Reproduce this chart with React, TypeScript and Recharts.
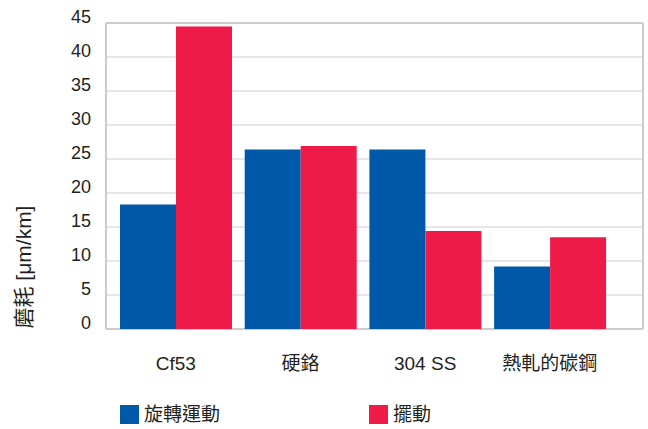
import { Bar, BarChart, CartesianGrid, XAxis, YAxis } from "recharts";

const categories = ["Cf53", "硬鉻", "304 SS", "熱軋的碳鋼"];
const rotation = [18.3, 26.4, 26.4, 9.2];
const oscillation = [44.5, 26.9, 14.4, 13.5];
const yTicks = [0, 5, 10, 15, 20, 25, 30, 35, 40, 45];

const BLUE = "#0058a8";
const RED = "#ee1a48";
const TEXT = "#231f20";
const FONT = '"Liberation Sans", Arial, "Noto Sans CJK TC", sans-serif';

const data = categories.map((name, i) => ({
	name,
	rotation: rotation[i],
	oscillation: oscillation[i],
}));

function YTick({ x, y, payload }: any) {
	return (
		<text x={x} y={y - 6} textAnchor="end" dominantBaseline="central" fill={TEXT} fontSize={18} fontFamily={FONT}>
			{payload.value}
		</text>
	);
}

function XTick({ x, y, payload }: any) {
	return (
		<text x={x} y={y + 26} textAnchor="middle" dominantBaseline="central" fill={TEXT} fontSize={19} fontFamily={FONT}>
			{payload.value}
		</text>
	);
}

function YLabel({ viewBox }: any) {
	const cx = viewBox.x - 23;
	const cy = viewBox.y + viewBox.height - 62;
	return (
		<text
			x={cx}
			y={cy}
			transform={`rotate(-90 ${cx} ${cy})`}
			textAnchor="middle"
			dominantBaseline="central"
			fill={TEXT}
			fontSize={21}
			fontFamily={FONT}
		>
			磨耗 [μm/km]
		</text>
	);
}

const legendItems = [
	{ label: "旋轉運動", color: BLUE, left: 120 },
	{ label: "擺動", color: RED, left: 369 },
];

export default function App() {
	return (
		<div style={{ position: "absolute", left: 0, top: 0, width: 648, height: 429, background: "#fff" }}>
			<BarChart
				width={648}
				height={429}
				data={data}
				margin={{ top: 23, right: 5, bottom: 60, left: 46 }}
				barCategoryGap={6.6}
				barGap={0}
			>
				<CartesianGrid vertical={false} stroke="#e6e6e6" strokeWidth={2} />
				<XAxis
					dataKey="name"
					height={40}
					padding={{ left: 7.4, right: 30.8 }}
					axisLine={false}
					tickLine={false}
					tick={<XTick />}
					interval={0}
				/>
				<YAxis
					width={60}
					domain={[0, 45]}
					ticks={yTicks}
					axisLine={false}
					tickLine={false}
					tickSize={0}
					tickMargin={15}
					tick={<YTick />}
					label={{ content: <YLabel /> }}
				/>
				<Bar dataKey="rotation" fill={BLUE} isAnimationActive={false} />
				<Bar dataKey="oscillation" fill={RED} isAnimationActive={false} />
				<CartesianGrid
					stroke="#cccccc"
					strokeWidth={2}
					fill="none"
					horizontalCoordinatesGenerator={({ offset }: any) => [offset.top, offset.top + offset.height]}
					verticalCoordinatesGenerator={({ offset }: any) => [offset.left, offset.left + offset.width]}
				/>
			</BarChart>
			{legendItems.map((item) => (
				<div
					key={item.label}
					style={{
						position: "absolute",
						left: item.left,
						top: 405,
						display: "flex",
						alignItems: "center",
						fontFamily: FONT,
						fontSize: 19,
						color: TEXT,
						lineHeight: "19px",
					}}
				>
					<span style={{ display: "inline-block", width: 19, height: 19, background: item.color, marginRight: 5 }} />
					<span>{item.label}</span>
				</div>
			))}
		</div>
	);
}
